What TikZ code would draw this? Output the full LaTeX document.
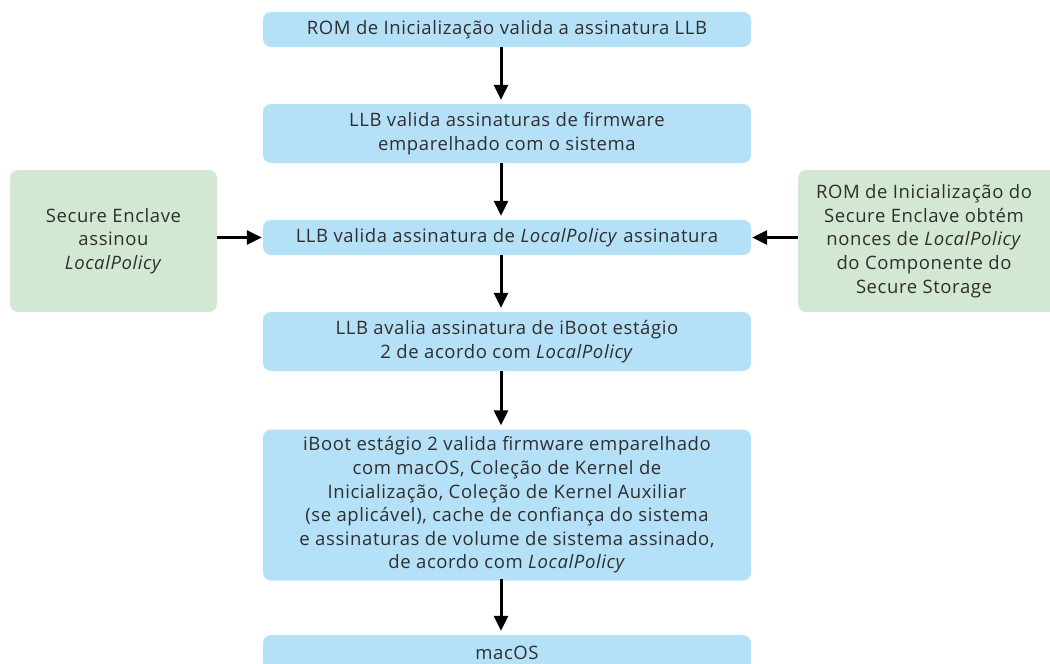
\documentclass[tikz,border=0pt]{standalone}
\usepackage{fontspec}
\setmainfont{Open Sans}[LetterSpace=3.2]
\usetikzlibrary{arrows.meta}
\definecolor{bluebox}{HTML}{B5E1F8}
\definecolor{greenbox}{HTML}{D3E8D3}
\definecolor{txt}{HTML}{2E2E2E}
\tikzset{
  bbox/.style={rectangle, rounded corners=8pt, fill=bluebox, minimum width=488pt, align=center, inner sep=0pt, text=txt, font=\fontsize{18.5}{23.6}\selectfont},
  gbox/.style={rectangle, rounded corners=8pt, fill=greenbox, minimum height=142pt, align=center, inner sep=0pt, text=txt, font=\fontsize{18.5}{23.6}\selectfont},
  arr/.style={line width=3pt, -{Triangle[length=15pt,width=14pt]}},
}
\begin{document}
\begin{tikzpicture}[x=1pt,y=-1pt]
\useasboundingbox (0,0) rectangle (1050,664);
\clip (0,0) rectangle (1050,664);
\fill[white] (0,0) rectangle (1050,664);
\node[bbox, minimum height=35pt] (b1) at (507,29.5) {\raisebox{-1.5pt}{ROM de Inicialização valida a assinatura LLB}};
\node[bbox, minimum height=59pt] (b2) at (507,133.5) {LLB valida assinaturas de firmware\\emparelhado com o sistema};
\node[bbox, minimum height=35pt] (b3) at (507,237.5) {\raisebox{-1.5pt}{LLB valida assinatura de \textit{LocalPolicy} assinatura}};
\node[bbox, minimum height=59pt] (b4) at (507,341.5) {LLB avalia assinatura de iBoot estágio\\2 de acordo com \textit{LocalPolicy}};
\node[bbox, minimum height=151pt] (b5) at (507,505) {iBoot estágio 2 valida firmware emparelhado\\com macOS, Coleção de Kernel de\\Inicialização, Coleção de Kernel Auxiliar\\(se aplicável), cache de confiança do sistema\\e assinaturas de volume de sistema assinado,\\de acordo com \textit{LocalPolicy}};
\node[bbox, minimum height=35pt] (b6) at (507,652.5) {\raisebox{-1.5pt}{macOS}};
\node[gbox, minimum width=207pt] (l) at (113.5,241) {Secure Enclave\\assinou\\\textit{LocalPolicy}};
\node[gbox, minimum width=260pt] (r) at (928,241) {\hspace*{-8pt}ROM de Inicialização do\\\hspace*{-8pt}Secure Enclave obtém\\\hspace*{-8pt}nonces de \textit{LocalPolicy}\\\hspace*{-8pt}do Componente do\\\hspace*{-8pt}Secure Storage};
\coordinate (ax) at (501,0);
\draw[arr, shorten >=4pt] (b1.south -| ax) -- (b2.north -| ax);
\draw[arr, shorten >=4pt] (b2.south -| ax) -- (b3.north -| ax);
\draw[arr, shorten >=4pt] (b3.south -| ax) -- (b4.north -| ax);
\draw[arr, shorten >=4pt] (b4.south -| ax) -- (b5.north -| ax);
\draw[arr, shorten >=4pt] ([yshift=1.5pt]b5.south -| ax) -- (b6.north -| ax);
\draw[arr, shorten >=1pt] (l.east |- b3) -- (b3.west);
\draw[arr, shorten >=1pt] (r.west |- b3) -- (b3.east);
\end{tikzpicture}
\end{document}
